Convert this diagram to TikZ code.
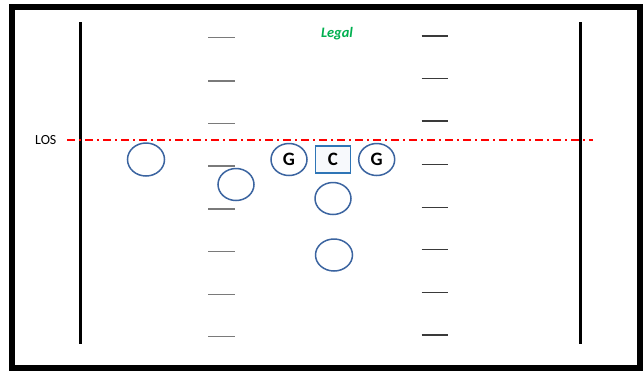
\documentclass[tikz,border=0pt]{standalone}
\usepackage{fontspec}
\setmainfont{Carlito}
\usetikzlibrary{shapes.geometric}
\definecolor{pblue}{HTML}{3B64A0}
\definecolor{cblue}{HTML}{2E75B6}
\definecolor{lgreen}{HTML}{00B050}
\definecolor{hashl}{HTML}{7A7A7A}
\definecolor{hashr}{HTML}{3A3A3A}
\tikzset{
  player/.style={ellipse, draw=pblue, line width=1.5bp, minimum width=36bp, minimum height=32bp, inner sep=0pt, font=\fontsize{19}{19}\selectfont\bfseries},
  center/.style={rectangle, draw=cblue, line width=1.5bp, fill=cblue!4, minimum width=35bp, minimum height=27bp, inner sep=0pt, font=\fontsize{19}{19}\selectfont\bfseries},
  sideline/.style={line width=3bp, black},
  hashL/.style={line width=1.5bp, hashl},
  hashR/.style={line width=1.5bp, hashr},
  los/.style={red, line width=1.5bp, dash pattern=on 8bp off 4bp on 2bp off 4bp}
}
\begin{document}
\begin{tikzpicture}[x=1bp,y=-1bp]
\useasboundingbox (0,0) rectangle (644,370);
\fill[white] (0,0) rectangle (644,370);
% frame
\draw[line width=6bp] (12,6.5) rectangle (639.5,367.5);
% sidelines
\coordinate (sl1) at (80.5,22);
\coordinate (sl2) at (80.5,344);
\coordinate (sr1) at (580.5,22);
\coordinate (sr2) at (580.5,344);
\draw[sideline] (sl1) -- (sl2);
\draw[sideline] (sr1) -- (sr2);
% hash marks
\foreach \y [count=\i] in {37.7,81,123.7,166,209,251.7,294.7,336.7} {
  \coordinate (hl\i a) at (208,\y);
  \coordinate (hl\i b) at (235,\y);
  \draw[hashL] (hl\i a) -- (hl\i b);
}
\foreach \y [count=\i] in {36,78.3,121,164.3,207.3,249.3,292.3,335} {
  \coordinate (hr\i a) at (421.7,\y);
  \coordinate (hr\i b) at (448.3,\y);
  \draw[hashR] (hr\i a) -- (hr\i b);
}
% line of scrimmage
\node[font=\fontsize{14}{14}\selectfont] (lostext) at (45.8,140) {LOS};
\coordinate (losL) at (67,140);
\coordinate (losR) at (593,140);
\draw[los] (losL) -- (losR);
% title
\node[font=\fontsize{14.5}{14.5}\selectfont\bfseries\itshape, text=lgreen] (legal) at (337,34) {Legal};
% players
\node[player, minimum width=37bp, minimum height=33bp] (p1) at (146,159.5) {};
\node[player] (p2) at (236,184.5) {};
\node[player] (gl) at (289,159.5) {G};
\node[center] (c) at (333,159.5) {C};
\node[player] (gr) at (376.7,159.5) {G};
\node[player] (p3) at (333,198.5) {};
\node[player, minimum width=37bp] (p4) at (334,255) {};
\end{tikzpicture}
\end{document}
